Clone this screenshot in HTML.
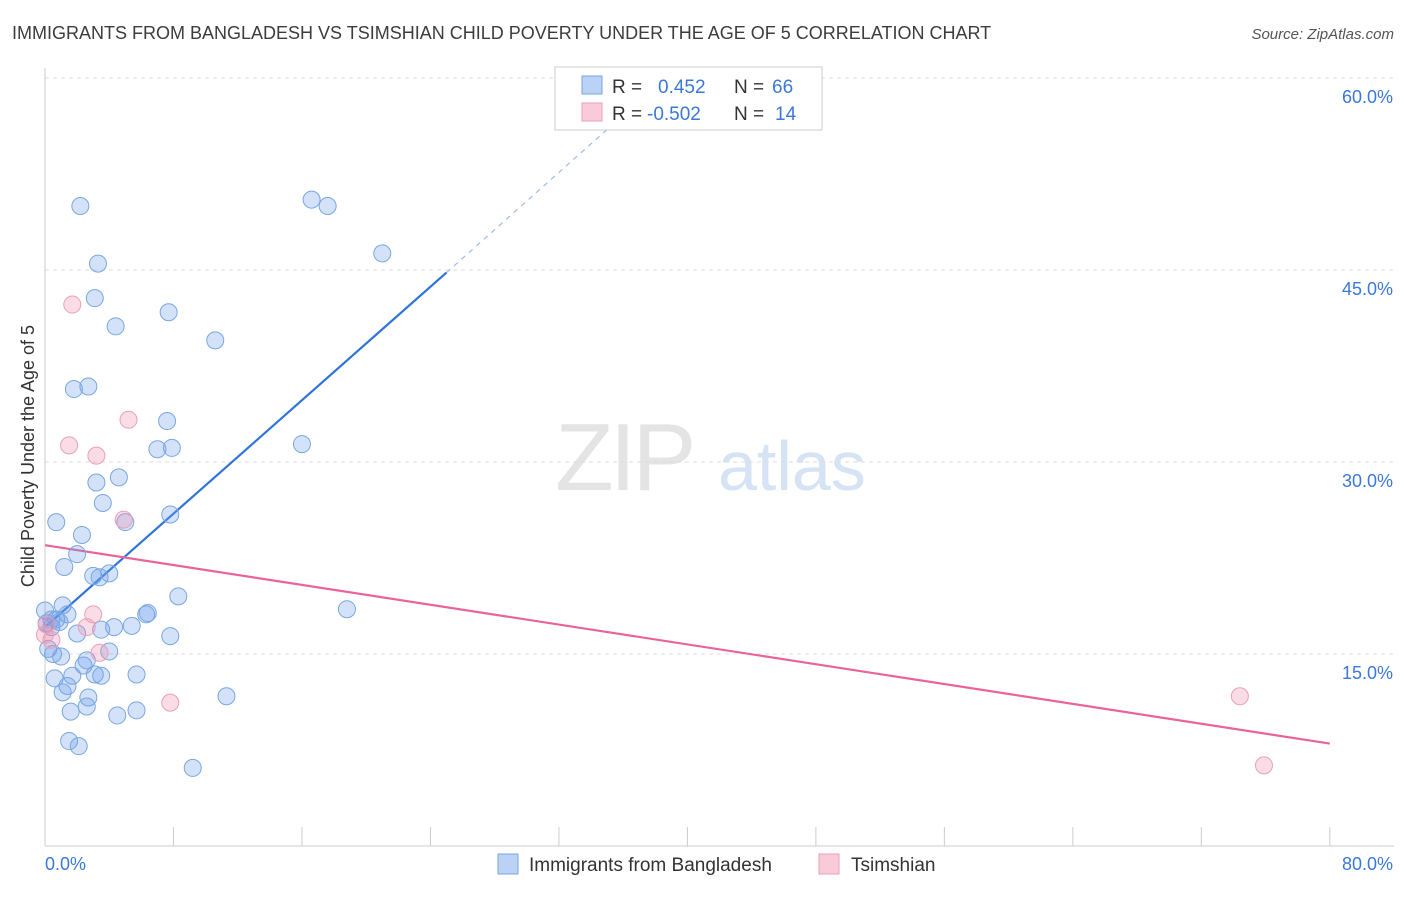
<!DOCTYPE html>
<html><head><meta charset="utf-8"><style>
body{margin:0;background:#fff;font-family:"Liberation Sans",sans-serif}
svg text{font-family:"Liberation Sans",sans-serif}
</style></head><body>
<svg id="chart" width="1406" height="892" viewBox="0 0 1406 892" xmlns="http://www.w3.org/2000/svg">
<text x="12" y="39" font-size="18" fill="#3c3c3c">IMMIGRANTS FROM BANGLADESH VS TSIMSHIAN CHILD POVERTY UNDER THE AGE OF 5 CORRELATION CHART</text>
<text x="1394" y="39" font-size="15" fill="#555" text-anchor="end" font-style="italic">Source: ZipAtlas.com</text>
<g>
<text x="555" y="490" font-size="96" fill="#e4e4e4" font-family="Liberation Serif" letter-spacing="-4">ZIP</text>
<text x="718" y="490" font-size="70" fill="#d6e3f5">atlas</text>
</g>
<g id="grid"></g>
<g id="axes"></g>
<g id="lines"></g>
<g id="points"></g>
<text transform="translate(34,456) rotate(-90)" font-size="18" fill="#333" text-anchor="middle">Child Poverty Under the Age of 5</text>
<g>
<rect x="555" y="67" width="267" height="63" fill="#fff" stroke="#ccc"/>
<rect x="582" y="76" width="20" height="18" fill="#b9d2f5" stroke="#7aa7e0"/>
<rect x="582" y="103" width="20" height="18" fill="#f9cbd9" stroke="#eba0b8"/>
<text x="612" y="93" font-size="19" fill="#333">R =</text>
<text x="658" y="93" font-size="19" fill="#3b78d8">0.452</text>
<text x="734" y="93" font-size="19" fill="#333">N =</text>
<text x="772" y="93" font-size="19" fill="#3b78d8">66</text>
<text x="612" y="120" font-size="19" fill="#333">R =</text>
<text x="647" y="120" font-size="19" fill="#3b78d8">-0.502</text>
<text x="734" y="120" font-size="19" fill="#333">N =</text>
<text x="775" y="120" font-size="19" fill="#3b78d8">14</text>
</g>
<g>
<rect x="498" y="854" width="20" height="20" fill="#b9d2f5" stroke="#7aa7e0"/>
<text x="529" y="871" font-size="19" fill="#333">Immigrants from Bangladesh</text>
<rect x="819" y="854" width="20" height="20" fill="#f9cbd9" stroke="#eba0b8"/>
<text x="851" y="871" font-size="19" fill="#333">Tsimshian</text>
</g>
</svg>
<script>
const blueX=[2.2,16.6,17.6,21.0,3.3,3.1,7.7,4.4,10.6,1.8,2.7,7.6,7.0,7.9,16.0,3.2,4.6,3.6,5.0,7.8,0.7,2.3,2.0,1.2,3.0,3.4,4.0,8.3,18.8,6.3,6.4,1.1,1.4,0.7,0,0.4,0.9,2.0,3.5,4.3,5.4,7.8,0.2,0.5,1.0,4.0,2.4,2.6,1.7,3.1,3.5,0.6,1.4,1.1,2.7,5.7,1.6,2.6,4.5,5.7,11.3,1.5,2.1,9.2,0.4,0.1];
const blueY=[50.0,50.5,50.0,46.3,45.5,42.8,41.7,40.6,39.5,35.7,35.9,33.2,31.0,31.1,31.4,28.4,28.8,26.8,25.3,25.9,25.3,24.3,22.8,21.8,21.1,21.0,21.3,19.5,18.5,18.1,18.2,18.8,18.1,17.7,18.4,17.7,17.5,16.6,16.9,17.1,17.2,16.4,15.4,15.0,14.8,15.2,14.1,14.5,13.3,13.4,13.3,13.1,12.5,12.0,11.6,13.4,10.5,10.9,10.2,10.6,11.7,8.2,7.8,6.1,17.1,17.4];
const pinkX=[1.7,5.2,1.5,3.2,4.9,3.0,2.6,0.4,0,3.4,7.8,74.4,75.9,0.1];
const pinkY=[42.3,33.3,31.3,30.5,25.5,18.1,17.1,16.1,16.5,15.1,11.2,11.7,6.3,17.3];
const blueTrend=[[0,17.1],[25.0,44.8]];
const blueTrendDash=[[25.0,44.8],[38.6,60]];
const pinkTrend=[[0,23.5],[80,8.0]];
const yTicks=[15,30,45,60];
const yTickLabels=["15.0%","30.0%","45.0%","60.0%"];
const xTicks=[0,8,16,24,32,40,48,56,64,72,80];
const NS="http://www.w3.org/2000/svg";
const sx=v=>45+v*16.06, sy=v=>846-v*12.8;
function mk(p,t,a){const e=document.createElementNS(NS,t);for(const k in a)e.setAttribute(k,a[k]);document.getElementById(p).appendChild(e);return e;}
yTicks.forEach((v,i)=>{
 const l=mk('grid','line',{x1:45,x2:1394,y1:sy(v),y2:sy(v),stroke:'#ddd','stroke-dasharray':'4,4'});
 
 
 const t=mk('axes','text',{x:1393,y:sy(v)+25,'font-size':18,fill:'#3b78d8','text-anchor':'end'});
 t.textContent=yTickLabels[i];
 
 
});
let a=mk('axes','line',{x1:45,x2:45,y1:68,y2:846,stroke:'#ccc'});


a=mk('axes','line',{x1:45,x2:1394,y1:846,y2:846,stroke:'#ccc'});


xTicks.forEach(v=>{const t=mk('axes','line',{x1:sx(v),x2:sx(v),y1:827,y2:846,stroke:'#ccc'});
 
 });
let xl=mk('axes','text',{x:45,y:870,'font-size':18,fill:'#3b78d8'});xl.textContent='0.0%';


xl=mk('axes','text',{x:1393,y:870,'font-size':18,fill:'#3b78d8','text-anchor':'end'});xl.textContent='80.0%';


function pts(x,y,fill,stroke,name){x.forEach((v,i)=>{const c=mk('points','circle',{cx:sx(v),cy:sy(y[i]),r:8.5,fill:fill,stroke:stroke,'stroke-width':1});
 
 });}
pts(blueX,blueY,'rgba(110,160,235,0.3)','#7aa7e0','bangladesh-point');
pts(pinkX,pinkY,'rgba(240,140,175,0.3)','#eba0b8','tsimshian-point');
let ln=mk('lines','line',{x1:sx(blueTrend[0][0]),y1:sy(blueTrend[0][1]),x2:sx(blueTrend[1][0]),y2:sy(blueTrend[1][1]),stroke:'#2f74d8','stroke-width':2.2});


ln=mk('lines','line',{x1:sx(blueTrendDash[0][0]),y1:sy(blueTrendDash[0][1]),x2:sx(blueTrendDash[1][0]),y2:sy(blueTrendDash[1][1]),stroke:'#9bbce8','stroke-width':1.2,'stroke-dasharray':'5,5'});


ln=mk('lines','line',{x1:sx(pinkTrend[0][0]),y1:sy(pinkTrend[0][1]),x2:sx(pinkTrend[1][0]),y2:sy(pinkTrend[1][1]),stroke:'#e8649a','stroke-width':2.2});


</script>
</body></html>
